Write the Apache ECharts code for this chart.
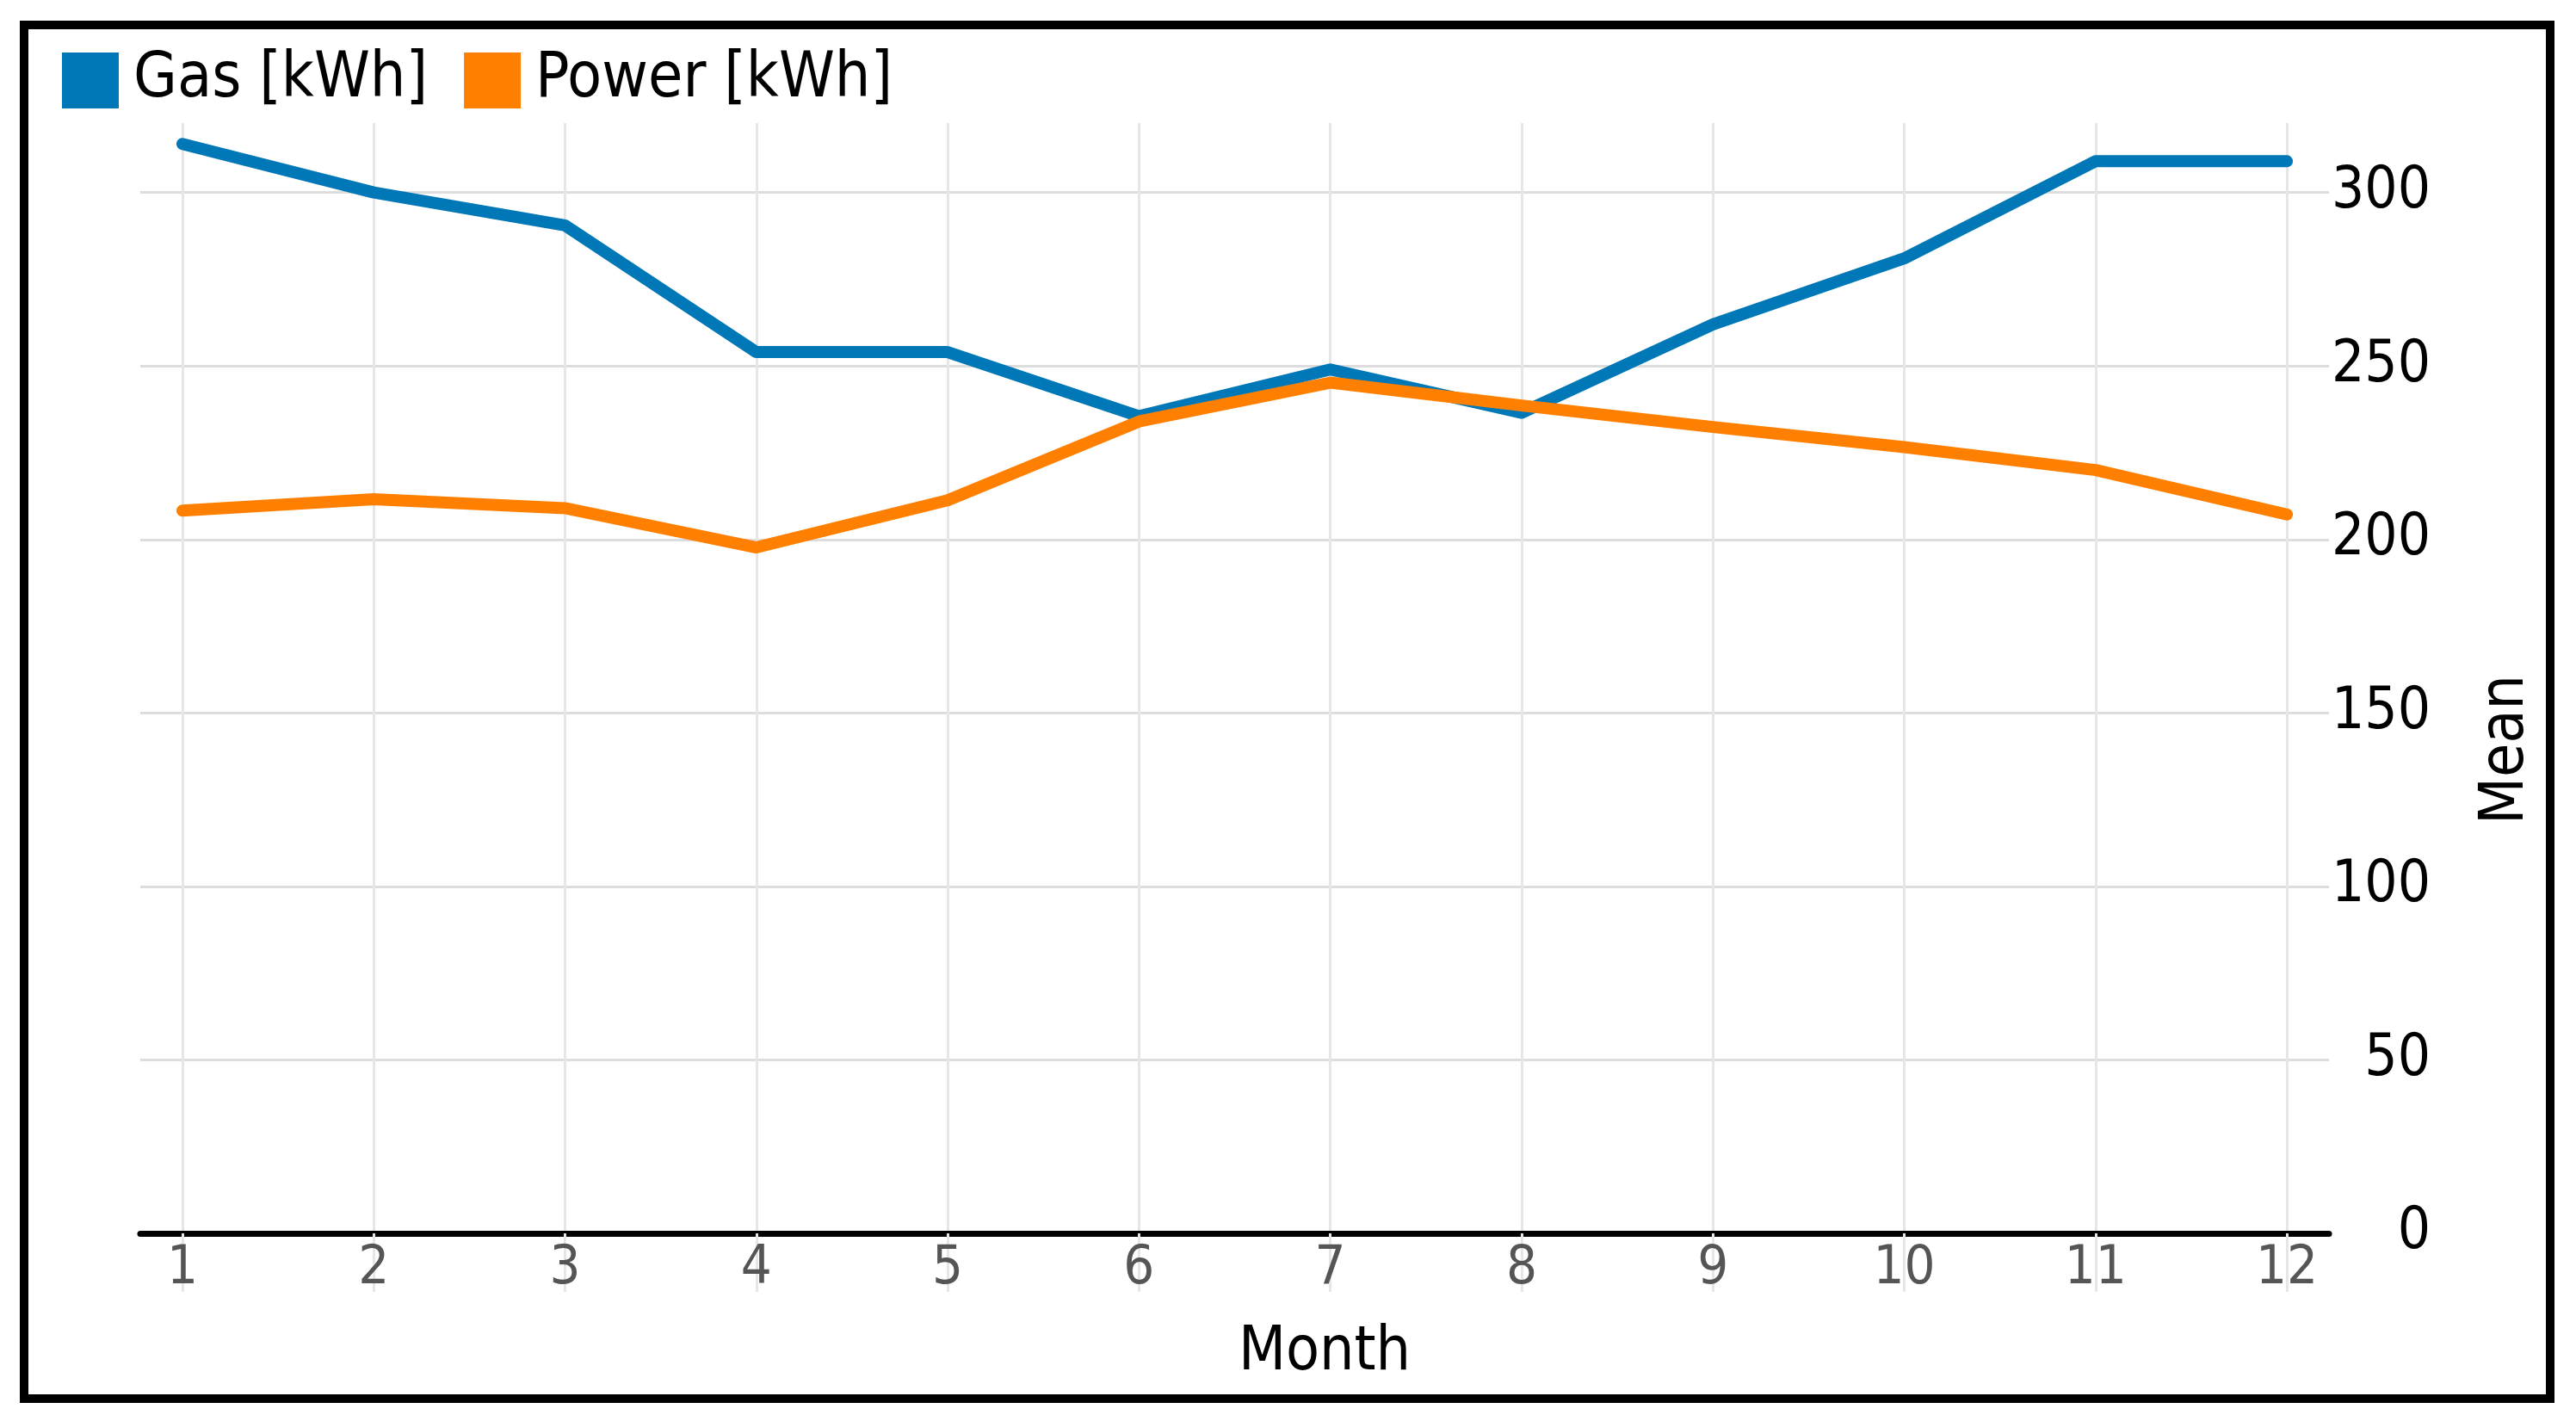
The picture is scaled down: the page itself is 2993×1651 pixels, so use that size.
<!DOCTYPE html>
<html>
<head>
<meta charset="utf-8">
<script src="https://cdn.jsdelivr.net/npm/echarts@6/dist/echarts.min.js"></script>
<style>
html,body{margin:0;padding:0;background:#fff;}
#chart{width:2993px;height:1651px;}
</style>
</head>
<body>
<div id="chart"></div>
<script>
const months = [1,2,3,4,5,6,7,8,9,10,11,12];
const gasValues = [314, 300, 290.5, 254, 254, 235.5, 249, 236.5, 262, 281, 309, 309];
const powerValues = [208.3, 211.6, 209, 197.7, 211.3, 234, 245.2, 238.6, 232.4, 226.6, 220, 207.2];
const yTicks = [0, 50, 100, 150, 200, 250, 300];
const seriesNames = ['Gas [kWh]', 'Power [kWh]'];

const condensed = '"DejaVu Sans Condensed", "DejaVu Sans", sans-serif';
const narrow = '"Liberation Sans Narrow", "DejaVu Sans Condensed", "DejaVu Sans", sans-serif';

const chart = echarts.init(document.getElementById('chart'), null, {renderer: 'canvas'});
chart.setOption({
  animation: false,
  backgroundColor: '#ffffff',
  graphic: [{
    type: 'rect',
    shape: {x: 28, y: 29, width: 2935, height: 1596},
    style: {fill: 'none', stroke: '#000', lineWidth: 10},
    silent: true,
    z: 100
  }],
  legend: {
    left: 67,
    top: 52,
    itemWidth: 66,
    itemHeight: 65,
    itemGap: 42,
    icon: 'rect',
    textStyle: {fontSize: 73, fontFamily: condensed, color: '#000', padding: [0, 0, 0, 12]},
    data: seriesNames
  },
  grid: {left: 163, right: 287, top: 143, bottom: 218, containLabel: false},
  xAxis: {
    type: 'value',
    min: 0.78,
    max: 12.22,
    name: 'Month',
    nameLocation: 'middle',
    nameGap: 104,
    nameTextStyle: {fontSize: 71, fontFamily: condensed, color: '#000', padding: [0, 0, 0, 209]},
    axisLine: {show: true, lineStyle: {color: '#000', width: 7}},
    axisTick: {show: true, customValues: months, length: 68, inside: false, lineStyle: {color: '#e6e6e6', width: 3}},
    axisLabel: {customValues: months, fontSize: 63, fontFamily: narrow, color: '#555', margin: 10},
    splitLine: {show: true, lineStyle: {color: '#e6e6e6', width: 3}}
  },
  yAxis: {
    type: 'value',
    position: 'right',
    min: 0,
    max: 320,
    interval: 50,
    name: 'Mean',
    nameLocation: 'middle',
    nameRotate: 90,
    nameGap: 171,
    nameTextStyle: {fontSize: 71, fontFamily: condensed, color: '#000', padding: [0, 166, 0, 0]},
    axisLine: {show: false},
    axisTick: {show: false},
    axisLabel: {
      customValues: yTicks,
      fontSize: 67, fontFamily: condensed, color: '#000', align: 'right', margin: 118,
      padding: [14, 0, 0, 0]
    },
    splitLine: {show: true, showMaxLine: false, lineStyle: {color: '#dddddd', width: 3}}
  },
  series: [
    {
      name: seriesNames[0],
      type: 'line',
      data: months.map((m, i) => [m, gasValues[i]]),
      showSymbol: false,
      itemStyle: {color: '#0077b6'},
      lineStyle: {color: '#0077b6', width: 14, cap: 'round', join: 'round'},
      z: 3
    },
    {
      name: seriesNames[1],
      type: 'line',
      data: months.map((m, i) => [m, powerValues[i]]),
      showSymbol: false,
      itemStyle: {color: '#ff8000'},
      lineStyle: {color: '#ff8000', width: 14, cap: 'round', join: 'round'},
      z: 4
    }
  ]
});
</script>
</body>
</html>
